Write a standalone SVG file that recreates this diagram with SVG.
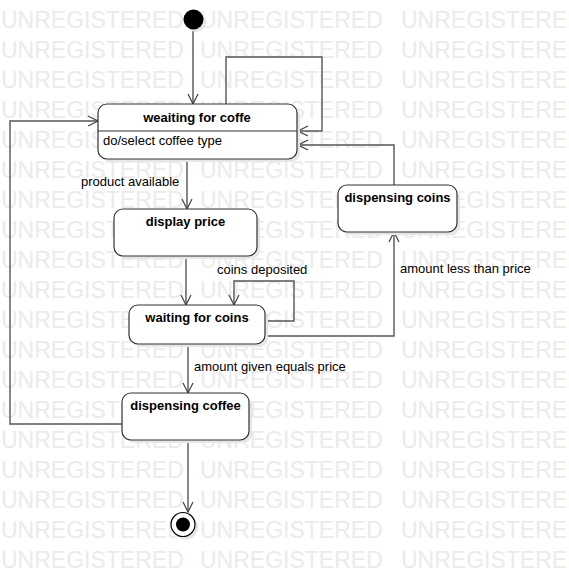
<svg xmlns="http://www.w3.org/2000/svg" width="569" height="578" viewBox="0 0 569 578">
<defs>
<style>
.wm{font-family:"Liberation Sans",Arial,sans-serif;font-size:23px;fill:#ebebeb}
.st{fill:#fff;stroke:#333;stroke-width:1.2}
.sh{fill:#e6e6e6;stroke:none}
.t{font-family:"Liberation Sans",Arial,sans-serif;font-size:13px;font-weight:bold;fill:#000;text-anchor:middle}
.b{font-family:"Liberation Sans",Arial,sans-serif;font-size:13px;fill:#000}
.c{fill:none;stroke:#555;stroke-width:1.4}
</style>
<marker id="ar" viewBox="0 0 12 12" refX="11" refY="6" markerWidth="12" markerHeight="12" markerUnits="userSpaceOnUse" orient="auto">
<path d="M1,1 L11,6 L1,11" fill="none" stroke="#444" stroke-width="1.2"/>
</marker>
</defs>
<rect width="569" height="578" fill="#fff"/>
<g id="watermark">
<text class="wm" x="1" y="28">UNREGISTERED</text><text class="wm" x="200" y="28">UNREGISTERED</text><text class="wm" x="401" y="28">UNREGISTERED</text>
<text class="wm" x="1" y="58">UNREGISTERED</text><text class="wm" x="200" y="58">UNREGISTERED</text><text class="wm" x="401" y="58">UNREGISTERED</text>
<text class="wm" x="1" y="88">UNREGISTERED</text><text class="wm" x="200" y="88">UNREGISTERED</text><text class="wm" x="401" y="88">UNREGISTERED</text>
<text class="wm" x="1" y="118">UNREGISTERED</text><text class="wm" x="200" y="118">UNREGISTERED</text><text class="wm" x="401" y="118">UNREGISTERED</text>
<text class="wm" x="1" y="148">UNREGISTERED</text><text class="wm" x="200" y="148">UNREGISTERED</text><text class="wm" x="401" y="148">UNREGISTERED</text>
<text class="wm" x="1" y="178">UNREGISTERED</text><text class="wm" x="200" y="178">UNREGISTERED</text><text class="wm" x="401" y="178">UNREGISTERED</text>
<text class="wm" x="1" y="208">UNREGISTERED</text><text class="wm" x="200" y="208">UNREGISTERED</text><text class="wm" x="401" y="208">UNREGISTERED</text>
<text class="wm" x="1" y="238">UNREGISTERED</text><text class="wm" x="200" y="238">UNREGISTERED</text><text class="wm" x="401" y="238">UNREGISTERED</text>
<text class="wm" x="1" y="268">UNREGISTERED</text><text class="wm" x="200" y="268">UNREGISTERED</text><text class="wm" x="401" y="268">UNREGISTERED</text>
<text class="wm" x="1" y="298">UNREGISTERED</text><text class="wm" x="200" y="298">UNREGISTERED</text><text class="wm" x="401" y="298">UNREGISTERED</text>
<text class="wm" x="1" y="328">UNREGISTERED</text><text class="wm" x="200" y="328">UNREGISTERED</text><text class="wm" x="401" y="328">UNREGISTERED</text>
<text class="wm" x="1" y="358">UNREGISTERED</text><text class="wm" x="200" y="358">UNREGISTERED</text><text class="wm" x="401" y="358">UNREGISTERED</text>
<text class="wm" x="1" y="388">UNREGISTERED</text><text class="wm" x="200" y="388">UNREGISTERED</text><text class="wm" x="401" y="388">UNREGISTERED</text>
<text class="wm" x="1" y="418">UNREGISTERED</text><text class="wm" x="200" y="418">UNREGISTERED</text><text class="wm" x="401" y="418">UNREGISTERED</text>
<text class="wm" x="1" y="448">UNREGISTERED</text><text class="wm" x="200" y="448">UNREGISTERED</text><text class="wm" x="401" y="448">UNREGISTERED</text>
<text class="wm" x="1" y="478">UNREGISTERED</text><text class="wm" x="200" y="478">UNREGISTERED</text><text class="wm" x="401" y="478">UNREGISTERED</text>
<text class="wm" x="1" y="508">UNREGISTERED</text><text class="wm" x="200" y="508">UNREGISTERED</text><text class="wm" x="401" y="508">UNREGISTERED</text>
<text class="wm" x="1" y="538">UNREGISTERED</text><text class="wm" x="200" y="538">UNREGISTERED</text><text class="wm" x="401" y="538">UNREGISTERED</text>
<text class="wm" x="1" y="568">UNREGISTERED</text><text class="wm" x="200" y="568">UNREGISTERED</text><text class="wm" x="401" y="568">UNREGISTERED</text>
</g>
<g id="connectors">
<path class="c" d="M193,29 V104" marker-end="url(#ar)"/>
<path class="c" d="M226,104 V57 H322 V131 H298" marker-end="url(#ar)"/>
<path class="c" d="M394,185 V145 H298" marker-end="url(#ar)"/>
<path class="c" d="M122,424 H10 V121 H98" marker-end="url(#ar)"/>
<path class="c" d="M187,159 V209" marker-end="url(#ar)"/>
<text class="b" x="81" y="186">product available</text>
<path class="c" d="M186,256 V305" marker-end="url(#ar)"/>
<path class="c" d="M265,321 H294 V281 H234 V305" marker-end="url(#ar)"/>
<text class="b" x="217" y="274">coins deposited</text>
<path class="c" d="M265,336 H394 V232" marker-end="url(#ar)"/>
<text class="b" x="400" y="273">amount less than price</text>
<path class="c" d="M188,344 V393" marker-end="url(#ar)"/>
<text class="b" x="194" y="371">amount given equals price</text>
<path class="c" d="M188,440 V512" marker-end="url(#ar)"/>
</g>
<g id="initial">
<circle cx="196" cy="22" r="10" fill="#e6e6e6"/>
<circle cx="193.5" cy="19.5" r="10" fill="#000"/>
</g>
<g id="weaiting-for-coffe">
<rect class="sh" x="101" y="107" width="199" height="55" rx="9"/>
<rect class="st" x="98" y="104" width="199" height="55" rx="9"/>
<line x1="98" y1="131" x2="297" y2="131" stroke="#333" stroke-width="1.2"/>
<text class="t" x="197" y="122">weaiting for coffe</text>
<text class="b" x="103" y="145">do/select coffee type</text>
</g>
<g id="display-price">
<rect class="sh" x="117" y="212" width="143" height="47" rx="9"/>
<rect class="st" x="114" y="209" width="143" height="47" rx="9"/>
<text class="t" x="185.5" y="226">display price</text>
</g>
<g id="dispensing-coins">
<rect class="sh" x="341" y="188" width="119" height="47" rx="9"/>
<rect class="st" x="338" y="185" width="119" height="47" rx="9"/>
<text class="t" x="397.5" y="202">dispensing coins</text>
</g>
<g id="waiting-for-coins">
<rect class="sh" x="132" y="308" width="136" height="39" rx="9"/>
<rect class="st" x="129" y="305" width="136" height="39" rx="9"/>
<text class="t" x="197" y="322">waiting for coins</text>
</g>
<g id="dispensing-coffee">
<rect class="sh" x="125" y="396" width="127" height="47" rx="9"/>
<rect class="st" x="122" y="393" width="127" height="47" rx="9"/>
<text class="t" x="185.5" y="410">dispensing coffee</text>
</g>
<g id="final">
<circle cx="186" cy="527.5" r="12" fill="#e6e6e6"/>
<circle cx="183" cy="524.5" r="12" fill="#fff" stroke="#000" stroke-width="1.2"/>
<circle cx="183" cy="524.5" r="7" fill="#000"/>
</g>
</svg>
